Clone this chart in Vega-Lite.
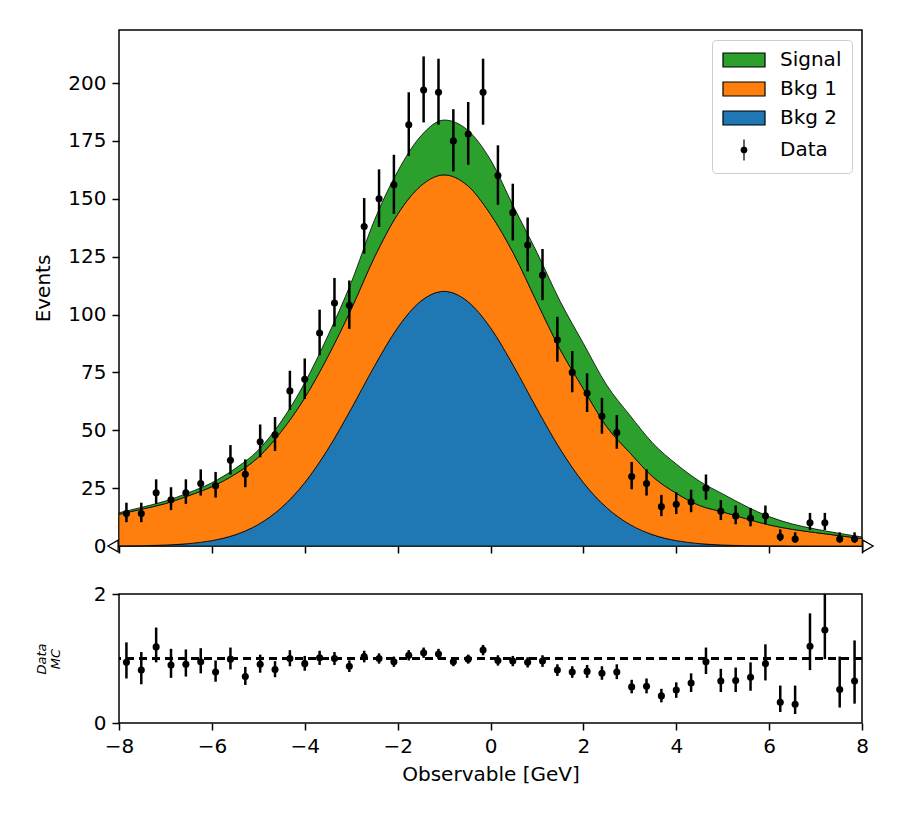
{
  "$schema": "https://vega.github.io/schema/vega-lite/v6.json",
  "padding": {"left": 33, "top": 29, "right": 10, "bottom": 10},
  "bounds": "flush",
  "spacing": 48,
  "config": {
    "font": "DejaVu Sans",
    "view": {"stroke": "black", "strokeWidth": 1.5},
    "axis": {
      "domain": false,
      "grid": false,
      "ticks": true,
      "tickColor": "black",
      "tickWidth": 1.5,
      "tickSize": 7,
      "labelFontSize": 20,
      "labelColor": "black",
      "labelPadding": 6,
      "labelFlush": false,
      "labelOverlap": false,
      "titleFontSize": 20,
      "titleFontWeight": "normal",
      "titleColor": "black"
    }
  },
  "datasets": {
    "curves": [
      {"x": -8, "b": 0.06, "o": 13.66, "g": 14.36},
      {"x": -7.5, "b": 0.16, "o": 15.96, "g": 16.76},
      {"x": -7, "b": 0.42, "o": 18.32, "g": 19.42},
      {"x": -6.5, "b": 1.03, "o": 21.73, "g": 23.03},
      {"x": -6, "b": 2.32, "o": 25.62, "g": 27.32},
      {"x": -5.5, "b": 4.83, "o": 31.03, "g": 33.43},
      {"x": -5, "b": 9.32, "o": 38.32, "g": 41.42},
      {"x": -4.5, "b": 16.6, "o": 49.6, "g": 54.0},
      {"x": -4, "b": 27.4, "o": 64.0, "g": 70.5},
      {"x": -3.5, "b": 41.9, "o": 81.9, "g": 90.9},
      {"x": -3, "b": 59.3, "o": 102.3, "g": 113.8},
      {"x": -2.5, "b": 77.7, "o": 124.7, "g": 140.7},
      {"x": -2, "b": 94.3, "o": 143.3, "g": 161.8},
      {"x": -1.5, "b": 105.8, "o": 155.6, "g": 177.1},
      {"x": -1, "b": 110, "o": 160.3, "g": 184.0},
      {"x": -0.5, "b": 105.8, "o": 155.8, "g": 179.8},
      {"x": 0, "b": 94.3, "o": 143.3, "g": 166.8},
      {"x": 0.5, "b": 77.7, "o": 126.2, "g": 146.5},
      {"x": 1, "b": 59.3, "o": 105.3, "g": 126.8},
      {"x": 1.5, "b": 41.9, "o": 84.9, "g": 105.7},
      {"x": 2, "b": 27.4, "o": 67.9, "g": 87.5},
      {"x": 2.5, "b": 16.6, "o": 51.6, "g": 69.6},
      {"x": 3, "b": 9.32, "o": 40.3, "g": 56.5},
      {"x": 3.5, "b": 4.83, "o": 29.8, "g": 44.3},
      {"x": 4, "b": 2.32, "o": 22.8, "g": 35.4},
      {"x": 4.5, "b": 1.03, "o": 17.5, "g": 28.0},
      {"x": 5, "b": 0.42, "o": 14.7, "g": 22.5},
      {"x": 5.5, "b": 0.16, "o": 11.8, "g": 17.2},
      {"x": 6, "b": 0.06, "o": 9.1, "g": 12.7},
      {"x": 6.5, "b": 0.02, "o": 7.2, "g": 9.5},
      {"x": 7, "b": 0.01, "o": 5.8, "g": 7.3},
      {"x": 7.5, "b": 0, "o": 4.5, "g": 5.5},
      {"x": 8, "b": 0, "o": 3.2, "g": 3.9}
    ],
    "counts": [
      {"x": -7.84, "n": 14, "lo": 10.3, "hi": 18.7},
      {"x": -7.52, "n": 14, "lo": 10.3, "hi": 18.7},
      {"x": -7.2, "n": 23, "lo": 18.2, "hi": 28.8},
      {"x": -6.88, "n": 20, "lo": 15.5, "hi": 25.4},
      {"x": -6.56, "n": 23, "lo": 18.2, "hi": 28.8},
      {"x": -6.24, "n": 27, "lo": 21.8, "hi": 33.1},
      {"x": -5.92, "n": 26, "lo": 20.9, "hi": 32.0},
      {"x": -5.6, "n": 37, "lo": 30.9, "hi": 43.6},
      {"x": -5.28, "n": 31, "lo": 25.4, "hi": 37.4},
      {"x": -4.96, "n": 45, "lo": 38.3, "hi": 52.5},
      {"x": -4.64, "n": 48, "lo": 41.1, "hi": 55.7},
      {"x": -4.32, "n": 67, "lo": 58.8, "hi": 75.7},
      {"x": -4.0, "n": 72, "lo": 63.5, "hi": 81.0},
      {"x": -3.68, "n": 92, "lo": 82.4, "hi": 102.1},
      {"x": -3.36, "n": 105, "lo": 94.8, "hi": 115.8},
      {"x": -3.04, "n": 104, "lo": 93.8, "hi": 114.7},
      {"x": -2.72, "n": 138, "lo": 126.3, "hi": 150.3},
      {"x": -2.4, "n": 150, "lo": 137.8, "hi": 162.7},
      {"x": -2.08, "n": 156, "lo": 143.5, "hi": 169.0},
      {"x": -1.76, "n": 182, "lo": 168.5, "hi": 196.0},
      {"x": -1.44, "n": 197, "lo": 183.0, "hi": 211.5},
      {"x": -1.12, "n": 196, "lo": 182.0, "hi": 210.5},
      {"x": -0.8, "n": 175, "lo": 161.8, "hi": 188.7},
      {"x": -0.48, "n": 178, "lo": 164.7, "hi": 191.8},
      {"x": -0.16, "n": 196, "lo": 182.0, "hi": 210.5},
      {"x": 0.16, "n": 160, "lo": 147.4, "hi": 173.1},
      {"x": 0.48, "n": 144, "lo": 132.0, "hi": 156.5},
      {"x": 0.8, "n": 130, "lo": 118.6, "hi": 141.9},
      {"x": 1.12, "n": 117, "lo": 106.2, "hi": 128.3},
      {"x": 1.44, "n": 89, "lo": 79.6, "hi": 99.0},
      {"x": 1.76, "n": 75, "lo": 66.4, "hi": 84.2},
      {"x": 2.08, "n": 66, "lo": 57.9, "hi": 74.6},
      {"x": 2.4, "n": 56, "lo": 48.5, "hi": 64.0},
      {"x": 2.72, "n": 49, "lo": 42.0, "hi": 56.6},
      {"x": 3.04, "n": 30, "lo": 24.5, "hi": 36.3},
      {"x": 3.36, "n": 27, "lo": 21.8, "hi": 33.1},
      {"x": 3.68, "n": 17, "lo": 12.9, "hi": 22.1},
      {"x": 4.0, "n": 18, "lo": 13.8, "hi": 23.2},
      {"x": 4.32, "n": 19, "lo": 14.6, "hi": 24.3},
      {"x": 4.64, "n": 25, "lo": 20.0, "hi": 30.9},
      {"x": 4.96, "n": 15, "lo": 11.2, "hi": 19.8},
      {"x": 5.28, "n": 13, "lo": 9.4, "hi": 17.5},
      {"x": 5.6, "n": 12, "lo": 8.5, "hi": 16.4},
      {"x": 5.92, "n": 13, "lo": 9.4, "hi": 17.5},
      {"x": 6.24, "n": 4, "lo": 2.1, "hi": 7.2},
      {"x": 6.56, "n": 3, "lo": 1.4, "hi": 5.9},
      {"x": 6.88, "n": 10, "lo": 6.9, "hi": 14.3},
      {"x": 7.2, "n": 10, "lo": 6.9, "hi": 14.3},
      {"x": 7.52, "n": 3, "lo": 1.4, "hi": 5.9},
      {"x": 7.84, "n": 3, "lo": 1.4, "hi": 5.9}
    ],
    "ratio": [
      {"x": -7.84, "r": 0.94, "lo": 0.69, "hi": 1.25},
      {"x": -7.52, "r": 0.82, "lo": 0.60, "hi": 1.10},
      {"x": -7.2, "r": 1.18, "lo": 0.94, "hi": 1.48},
      {"x": -6.88, "r": 0.90, "lo": 0.70, "hi": 1.15},
      {"x": -6.56, "r": 0.91, "lo": 0.72, "hi": 1.14},
      {"x": -6.24, "r": 0.95, "lo": 0.77, "hi": 1.16},
      {"x": -5.92, "r": 0.79, "lo": 0.64, "hi": 0.97},
      {"x": -5.6, "r": 0.99, "lo": 0.83, "hi": 1.17},
      {"x": -5.28, "r": 0.72, "lo": 0.59, "hi": 0.87},
      {"x": -4.96, "r": 0.91, "lo": 0.78, "hi": 1.06},
      {"x": -4.64, "r": 0.83, "lo": 0.71, "hi": 0.96},
      {"x": -4.32, "r": 1.00, "lo": 0.88, "hi": 1.13},
      {"x": -4.0, "r": 0.92, "lo": 0.81, "hi": 1.04},
      {"x": -3.68, "r": 1.01, "lo": 0.90, "hi": 1.12},
      {"x": -3.36, "r": 1.00, "lo": 0.90, "hi": 1.10},
      {"x": -3.04, "r": 0.88, "lo": 0.79, "hi": 0.97},
      {"x": -2.72, "r": 1.03, "lo": 0.94, "hi": 1.12},
      {"x": -2.4, "r": 1.00, "lo": 0.92, "hi": 1.08},
      {"x": -2.08, "r": 0.95, "lo": 0.87, "hi": 1.03},
      {"x": -1.76, "r": 1.05, "lo": 0.97, "hi": 1.13},
      {"x": -1.44, "r": 1.09, "lo": 1.01, "hi": 1.17},
      {"x": -1.12, "r": 1.07, "lo": 0.99, "hi": 1.15},
      {"x": -0.8, "r": 0.95, "lo": 0.88, "hi": 1.02},
      {"x": -0.48, "r": 0.99, "lo": 0.92, "hi": 1.06},
      {"x": -0.16, "r": 1.13, "lo": 1.05, "hi": 1.21},
      {"x": 0.16, "r": 0.97, "lo": 0.89, "hi": 1.05},
      {"x": 0.48, "r": 0.96, "lo": 0.88, "hi": 1.04},
      {"x": 0.8, "r": 0.94, "lo": 0.86, "hi": 1.02},
      {"x": 1.12, "r": 0.96, "lo": 0.87, "hi": 1.05},
      {"x": 1.44, "r": 0.82, "lo": 0.73, "hi": 0.91},
      {"x": 1.76, "r": 0.79, "lo": 0.70, "hi": 0.88},
      {"x": 2.08, "r": 0.80, "lo": 0.70, "hi": 0.90},
      {"x": 2.4, "r": 0.77, "lo": 0.67, "hi": 0.88},
      {"x": 2.72, "r": 0.79, "lo": 0.68, "hi": 0.91},
      {"x": 3.04, "r": 0.56, "lo": 0.46, "hi": 0.67},
      {"x": 3.36, "r": 0.57, "lo": 0.46, "hi": 0.69},
      {"x": 3.68, "r": 0.42, "lo": 0.32, "hi": 0.53},
      {"x": 4.0, "r": 0.51, "lo": 0.39, "hi": 0.63},
      {"x": 4.32, "r": 0.62, "lo": 0.48, "hi": 0.77},
      {"x": 4.64, "r": 0.95, "lo": 0.76, "hi": 1.17},
      {"x": 4.96, "r": 0.65, "lo": 0.48, "hi": 0.84},
      {"x": 5.28, "r": 0.66, "lo": 0.48, "hi": 0.86},
      {"x": 5.6, "r": 0.71, "lo": 0.50, "hi": 0.94},
      {"x": 5.92, "r": 0.92, "lo": 0.66, "hi": 1.22},
      {"x": 6.24, "r": 0.32, "lo": 0.17, "hi": 0.58},
      {"x": 6.56, "r": 0.29, "lo": 0.14, "hi": 0.58},
      {"x": 6.88, "r": 1.19, "lo": 0.82, "hi": 1.70},
      {"x": 7.2, "r": 1.44, "lo": 0.99, "hi": 2.07},
      {"x": 7.52, "r": 0.52, "lo": 0.24, "hi": 1.03},
      {"x": 7.84, "r": 0.65, "lo": 0.30, "hi": 1.28}
    ],
    "edges": [
      {"x": -8, "y": 0},
      {"x": 8, "y": 0}
    ]
  },
  "vconcat": [
    {
      "width": 743,
      "height": 516,
      "layer": [
        {
          "data": {"name": "curves"},
          "mark": {"type": "area", "interpolate": "monotone", "stroke": "black", "strokeWidth": 0.8, "opacity": 1},
          "encoding": {
            "x": {"field": "x", "type": "quantitative", "scale": {"domain": [-8, 8], "nice": false, "zero": false}, "axis": {"values": [-8, -6, -4, -2, 0, 2, 4, 6, 8], "labels": false}, "title": null},
            "y": {"field": "b", "type": "quantitative", "scale": {"domain": [0, 222.9], "nice": false}, "axis": {"values": [0, 25, 50, 75, 100, 125, 150, 175, 200], "titlePadding": 14}, "title": "Events"},
            "color": {
              "datum": "Bkg 2",
              "scale": {"domain": ["Signal", "Bkg 1", "Bkg 2", "Data"], "range": ["#2ca02c", "#ff7f0e", "#1f77b4", "black"]},
              "legend": {
                "orient": "top-right",
                "offset": 10,
                "title": null,
                "padding": 10,
                "labelFontSize": 20,
                "labelColor": "black",
                "symbolType": "M-3,-1H3V1H-3Z",
                "symbolSize": 196,
                "symbolOffset": 12,
                "labelOffset": 26,
                "rowPadding": 9,
                "symbolStrokeColor": "black",
                "symbolStrokeWidth": 1.2,
                "symbolOpacity": 1,
                "strokeColor": "#cccccc",
                "fillColor": "rgba(255,255,255,0.8)",
                "cornerRadius": 4,
                "encode": {
                  "symbols": {
                    "update": {
                      "shape": {"signal": "datum.label === 'Data' ? 'M0,-1.5V1.5M0.4,0A0.4,0.4 0 1 1 -0.4,0A0.4,0.4 0 1 1 0.4,0Z' : 'M-3,-1H3V1H-3Z'"},
                      "stroke": {"value": "black"},
                      "strokeWidth": {"value": 1.2}
                    }
                  }
                }
              }
            }
          }
        },
        {
          "data": {"name": "curves"},
          "mark": {"type": "area", "interpolate": "monotone", "stroke": "black", "strokeWidth": 0.8, "opacity": 1},
          "encoding": {
            "x": {"field": "x", "type": "quantitative"},
            "y": {"field": "o", "type": "quantitative"},
            "y2": {"field": "b"},
            "color": {"datum": "Bkg 1"}
          }
        },
        {
          "data": {"name": "curves"},
          "mark": {"type": "area", "interpolate": "monotone", "stroke": "black", "strokeWidth": 0.8, "opacity": 1},
          "encoding": {
            "x": {"field": "x", "type": "quantitative"},
            "y": {"field": "g", "type": "quantitative"},
            "y2": {"field": "o"},
            "color": {"datum": "Signal"}
          }
        },
        {
          "data": {"name": "counts"},
          "mark": {"type": "rule", "color": "black", "strokeWidth": 2.5},
          "encoding": {
            "x": {"field": "x", "type": "quantitative"},
            "y": {"field": "lo", "type": "quantitative"},
            "y2": {"field": "hi"}
          }
        },
        {
          "data": {"name": "counts"},
          "mark": {"type": "point", "filled": true, "size": 50, "opacity": 1},
          "encoding": {
            "x": {"field": "x", "type": "quantitative"},
            "y": {"field": "n", "type": "quantitative"},
            "color": {"datum": "Data"}
          }
        },
        {
          "data": {"name": "edges"},
          "transform": [{"filter": "datum.x < 0"}],
          "mark": {"type": "point", "shape": "triangle-left", "filled": true, "fill": "white", "stroke": "black", "strokeWidth": 1.3, "size": 140, "opacity": 1, "xOffset": -6},
          "encoding": {
            "x": {"field": "x", "type": "quantitative"},
            "y": {"field": "y", "type": "quantitative"}
          }
        },
        {
          "data": {"name": "edges"},
          "transform": [{"filter": "datum.x > 0"}],
          "mark": {"type": "point", "shape": "triangle-right", "filled": true, "fill": "white", "stroke": "black", "strokeWidth": 1.3, "size": 140, "opacity": 1, "xOffset": 6},
          "encoding": {
            "x": {"field": "x", "type": "quantitative"},
            "y": {"field": "y", "type": "quantitative"}
          }
        }
      ]
    },
    {
      "width": 743,
      "height": 129,
      "data": {"name": "ratio"},
      "layer": [
        {
          "mark": {"type": "rule", "color": "black", "strokeWidth": 2.5, "clip": true},
          "encoding": {
            "x": {"field": "x", "type": "quantitative", "scale": {"domain": [-8, 8], "nice": false, "zero": false}, "axis": {"values": [-8, -6, -4, -2, 0, 2, 4, 6, 8], "titlePadding": 8}, "title": "Observable [GeV]"},
            "y": {"field": "lo", "type": "quantitative", "scale": {"domain": [0, 2], "nice": false}, "axis": {"values": [0, 1, 2], "format": "d", "titleFontSize": 13, "titleFontStyle": "italic", "titleLineHeight": 14, "titlePadding": 31}, "title": ["Data", "MC"]},
            "y2": {"field": "hi"}
          }
        },
        {
          "mark": {"type": "rule", "color": "black", "strokeWidth": 1.5, "strokeDash": [8, 5]},
          "encoding": {"y": {"datum": 1, "type": "quantitative"}}
        },
        {
          "mark": {"type": "point", "filled": true, "size": 50, "color": "black", "opacity": 1},
          "encoding": {
            "x": {"field": "x", "type": "quantitative"},
            "y": {"field": "r", "type": "quantitative"}
          }
        }
      ]
    }
  ]
}
